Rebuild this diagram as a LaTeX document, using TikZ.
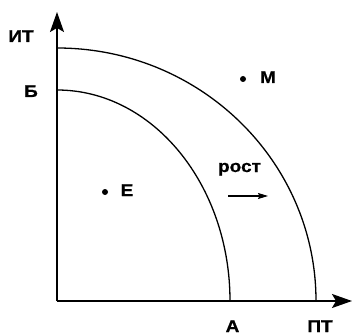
\documentclass[tikz,border=0pt]{standalone}
\usepackage{fontspec}
\setmainfont{Liberation Sans}
\newfontfamily\lbl[FakeStretch=1.12,FakeBold=0.8]{Liberation Sans Bold}
\usetikzlibrary{arrows.meta}
\tikzset{
  axis/.style={line width=1.4pt,-{Stealth[length=20pt,width=14pt,inset=4pt]}},
  curve/.style={line width=1.3pt},
  lab/.style={inner sep=0pt,anchor=base,font=\lbl\fontsize{17}{19}\selectfont},
  pt/.style={circle,fill=black,inner sep=0pt,minimum size=6pt},
  growarrow/.style={line width=1.1pt,-{Stealth[length=10pt,width=6pt,inset=1.5pt]}}
}
\begin{document}
\begin{tikzpicture}[x=1pt,y=1pt]
\useasboundingbox (0,0) rectangle (353,335);
\coordinate (O) at (57,34);
\coordinate (ytip) at (57,323);
\coordinate (xtip) at (352,34);
\draw[axis] (O) -- (ytip);
\draw[axis] (O) -- (xtip);
\coordinate (inB) at (57,245);
\coordinate (outT) at (57,287);
\draw[curve] (inB) arc[start angle=90,end angle=0,x radius=173,y radius=211];
\draw[curve] (outT) arc[start angle=90,end angle=0,x radius=259,y radius=253];
\node[lab] (it) at (21,293) {ИТ};
\node[lab] (b) at (31,238) {Б};
\node[lab] (a) at (232.5,3) {А};
\node[lab] (pt) at (320,3) {ПТ};
\node[pt] (mdot) at (243,256) {};
\node[lab] (m) at (268,252) {М};
\node[pt] (edot) at (105,143) {};
\node[lab] (e) at (127,139) {Е};
\node[lab] (rost) at (239.5,163) {рост};
\coordinate (g1) at (228,139);
\coordinate (g2) at (268,139);
\draw[growarrow] (g1) -- (g2);
\end{tikzpicture}
\end{document}
